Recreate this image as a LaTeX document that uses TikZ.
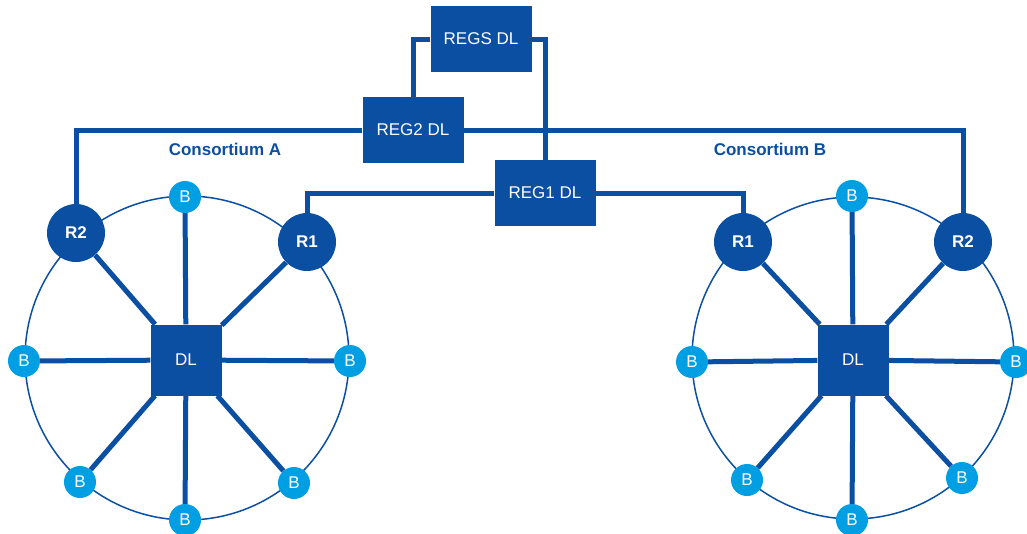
\documentclass[tikz,border=0pt]{standalone}
\usepackage{fontspec}
\setmainfont{Liberation Sans}
\definecolor{dlblue}{RGB}{11,79,163}
\definecolor{bblue}{RGB}{0,159,227}
\begin{document}
\begin{tikzpicture}[x=1pt,y=-1pt,
	every node/.style={font=\fontsize{17}{20}\selectfont, text=white, inner sep=0pt},
	regbox/.style={fill=dlblue, minimum width=101pt, minimum height=66pt},
	dlbox/.style={fill=dlblue, minimum size=71pt},
	rnode/.style={circle, fill=dlblue, minimum size=58pt, font=\fontsize{17}{20}\selectfont\bfseries},
	bnode/.style={circle, fill=bblue, minimum size=32pt},
	title/.style={text=dlblue, font=\fontsize{17}{20}\selectfont\bfseries},
	link/.style={dlblue, line width=5pt},
	ring/.style={dlblue, line width=1.5pt}]
		\useasboundingbox (0,0) rectangle (1027,533);
		% rings
		\draw[ring] (187,358) circle (162pt);
		\draw[ring] (853,358) circle (161pt);
		% top of the tree
		\node[regbox] (regs) at (481,39) {REGS DL};
		\node[regbox] (reg2) at (413,130) {REG2 DL};
		\node[regbox] (reg1) at (545,193) {REG1 DL};
		\node[title] (consA) at (225,149) {Consortium A};
		\node[title] (consB) at (770,149) {Consortium B};
		% consortium A
		\node[dlbox] (dlA) at (186,360) {DL};
		\node[rnode] (r2A) at (76,233) {R2};
		\node[rnode] (r1A) at (307,242) {R1};
		\node[bnode] (bA1) at (185,197) {B};
		\node[bnode] (bA2) at (350,361) {B};
		\node[bnode] (bA3) at (294,483) {B};
		\node[bnode] (bA4) at (185,520) {B};
		\node[bnode] (bA5) at (80,482) {B};
		\node[bnode] (bA6) at (24,361) {B};
		% consortium B
		\node[dlbox] (dlB) at (853,360) {DL};
		\node[rnode] (r1B) at (743,242) {R1};
		\node[rnode] (r2B) at (963,242) {R2};
		\node[bnode] (bB1) at (852,196) {B};
		\node[bnode] (bB2) at (1016,362) {B};
		\node[bnode] (bB3) at (962,478) {B};
		\node[bnode] (bB4) at (852,520) {B};
		\node[bnode] (bB5) at (747,480) {B};
		\node[bnode] (bB6) at (692,362) {B};
		% spokes
		\foreach \n in {r2A,r1A,bA1,bA2,bA3,bA4,bA5,bA6}
			\draw[link] (dlA) -- (\n);
		\foreach \n in {r1B,r2B,bB1,bB2,bB3,bB4,bB5,bB6}
			\draw[link] (dlB) -- (\n);
		% tree
		\draw[link] (regs.west) -| (reg2.north);
		\draw[link] (regs.east) -| (reg1.north);
		\draw[link] (reg2.west) -| (r2A.north);
		\draw[link] (reg2.east) -| (r2B.north);
		\draw[link] (reg1.west) -| (r1A.north);
		\draw[link] (reg1.east) -| (r1B.north);
	    \end{tikzpicture}
\end{document}
